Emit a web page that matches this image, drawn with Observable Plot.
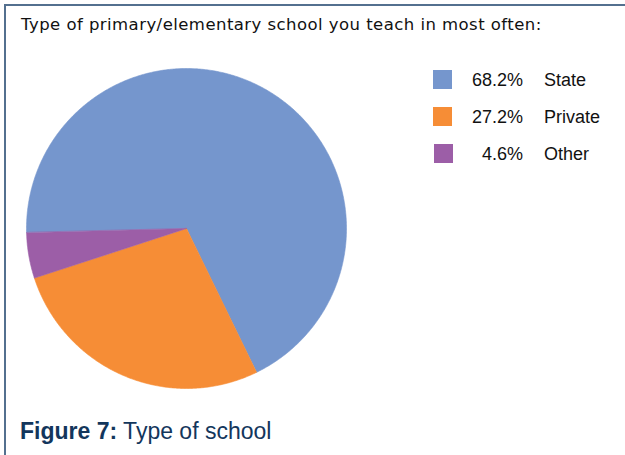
<!DOCTYPE html>
<html>
<head>
<meta charset="utf-8">
<script src="https://cdn.jsdelivr.net/npm/d3@7"></script>
<script src="https://cdn.jsdelivr.net/npm/@observablehq/plot@0.6"></script>
<style>
  html, body { margin: 0; padding: 0; background: #fff; }
  body { width: 625px; height: 455px; position: relative; overflow: hidden; font-family: "Liberation Sans", Arial, sans-serif; }
  #frame { position: absolute; left: 4px; top: 4px; width: 640px; height: 470px; border-top: 2px solid #53708f; border-left: 2px solid #53708f; }
  #chart { position: absolute; left: 0; top: 0; }
  #title { position: absolute; left: 21px; top: 13px; font-family: "DejaVu Sans", sans-serif; font-size: 16.5px; letter-spacing: 0.45px; line-height: 24px; color: #111; white-space: nowrap; }
  #caption { position: absolute; left: 20px; top: 418px; font-size: 23px; line-height: 26px; color: #13365c; white-space: nowrap; }
  #caption b { font-weight: bold; }
  .lg { position: absolute; font-size: 18px; color: #111; white-space: nowrap; line-height: 1; }
  .sw { position: absolute; width: 19px; height: 19px; }
</style>
</head>
<body>
<div id="frame"></div>
<div id="chart"></div>
<div id="title">Type of primary/elementary school you teach in most often:</div>
<div id="legend"></div>
<div id="caption"><b>Figure 7:</b> Type of school</div>
<script>
const categories = ["State", "Private", "Other"];
const shares = [68.2, 27.2, 4.6];
const shareLabels = ["68.2%", "27.2%", "4.6%"];
const colors = ["#7596cd", "#f68d36", "#9c5ea7"];
const startDeg = 268.5;

const table = categories.map((c, i) => ({cat: c, value: shares[i], label: shareLabels[i]}));
const arcs = d3.pie().sort(null).value(d => d.value)
  .startAngle(startDeg * Math.PI / 180)
  .endAngle((startDeg + 360) * Math.PI / 180)(table);

const pts = [];
for (const a of arcs) {
  const n = Math.max(4, Math.ceil((a.endAngle - a.startAngle) / (Math.PI / 360)));
  pts.push({cat: a.data.cat, x: 0, y: 0});
  for (let k = 0; k <= n; k++) {
    const t = a.startAngle + (a.endAngle - a.startAngle) * k / n;
    pts.push({cat: a.data.cat, x: Math.sin(t), y: Math.cos(t)});
  }
}

const chart = Plot.plot({
  width: 625,
  height: 455,
  margin: 0,
  x: {domain: [-1, 1], range: [26, 346], axis: null},
  y: {domain: [-1, 1], range: [388, 68], axis: null},
  color: {domain: categories, range: colors},
  marks: [
    Plot.line(pts, {x: "x", y: "y", z: "cat", fill: "cat", stroke: "cat", strokeWidth: 0.6, curve: "linear-closed"})
  ]
});
chart.style.background = "transparent";
document.getElementById("chart").appendChild(chart);

const legend = document.getElementById("legend");
const rowTop = [70, 107, 144];
table.forEach((d, i) => {
  const sw = document.createElement("div");
  sw.className = "sw";
  sw.style.left = (433 + (i === 2 ? 1 : 0)) + "px";
  sw.style.top = rowTop[i] + "px";
  sw.style.background = colors[i];
  legend.appendChild(sw);
  const p = document.createElement("div");
  p.className = "lg";
  p.style.right = (625 - 523) + "px";
  p.style.top = (rowTop[i] + 1) + "px";
  p.textContent = d.label;
  legend.appendChild(p);
  const l = document.createElement("div");
  l.className = "lg";
  l.style.left = "544px";
  l.style.top = (rowTop[i] + 1) + "px";
  l.textContent = d.cat;
  legend.appendChild(l);
});
</script>
</body>
</html>
